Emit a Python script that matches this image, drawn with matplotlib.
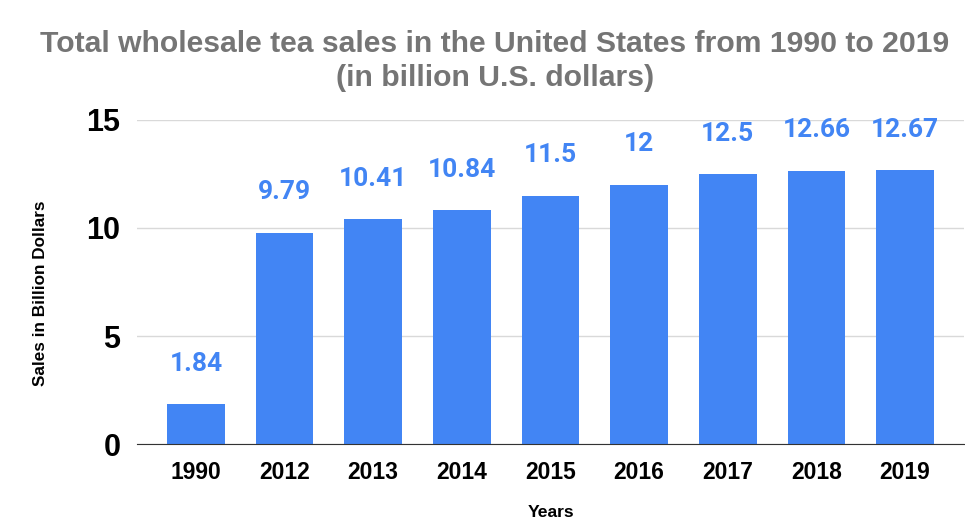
import matplotlib.pyplot as plt
import numpy as np

plt.rcParams['font.family'] = ['Liberation Sans', 'DejaVu Sans']

years = ["1990", "2012", "2013", "2014", "2015", "2016", "2017", "2018", "2019"]
sales = [1.84, 9.79, 10.41, 10.84, 11.5, 12, 12.5, 12.66, 12.67]
value_labels = ["1.84", "9.79", "10.41", "10.84", "11.5", "12", "12.5", "12.66", "12.67"]
y_ticks = [0, 5, 10, 15]

blue = '#4285F4'

fig = plt.figure(figsize=(9.65, 5.31), dpi=100)
ax = fig.add_axes([137 / 965, 87 / 531, 827 / 965, 324 / 531])

x = np.arange(len(years))
ax.bar(x, sales, width=0.65, color=blue, zorder=3)

# value labels above bars
for xi, v, lab in zip(x, sales, value_labels):
    ax.annotate(lab, (xi, v), xytext=(0, 24), textcoords='offset points',
                ha='center', va='baseline', color=blue, fontsize=19,
                fontweight='bold', family=['Roboto', 'DejaVu Sans'])

ax.set_xlim(-0.665, len(years) - 0.335)
ax.set_ylim(0, 15)
ax.set_yticks(y_ticks)
ax.set_yticklabels([str(t) for t in y_ticks], fontsize=22, fontweight='bold')
ax.set_xticks(x)
ax.set_xticklabels(years, fontsize=16.5, fontweight='bold')
ax.tick_params(length=0)
ax.tick_params(axis='x', pad=12)
ax.tick_params(axis='y', pad=12)

ax.grid(axis='y', color='#d9d9d9', linewidth=1, zorder=0)
for s in ['top', 'right', 'left']:
    ax.spines[s].set_visible(False)
ax.spines['bottom'].set_color('#333333')
ax.spines['bottom'].set_zorder(4)

ax.set_ylabel('Sales in Billion Dollars', fontsize=12.3, fontweight='bold')
ax.yaxis.set_label_coords(-0.108, 0.466)
ax.set_xlabel('Years', fontsize=12.6, fontweight='bold')
ax.xaxis.set_label_coords(0.5, -0.188)

fig.text(0.513, 1 - 52 / 531, 'Total wholesale tea sales in the United States from 1990 to 2019',
         ha='center', va='baseline', fontsize=21.7, fontweight='bold', color='#757575')
fig.text(0.513, 1 - 86 / 531, '(in billion U.S. dollars)',
         ha='center', va='baseline', fontsize=21.7, fontweight='bold', color='#757575')

fig.savefig('out.png', dpi=100)
